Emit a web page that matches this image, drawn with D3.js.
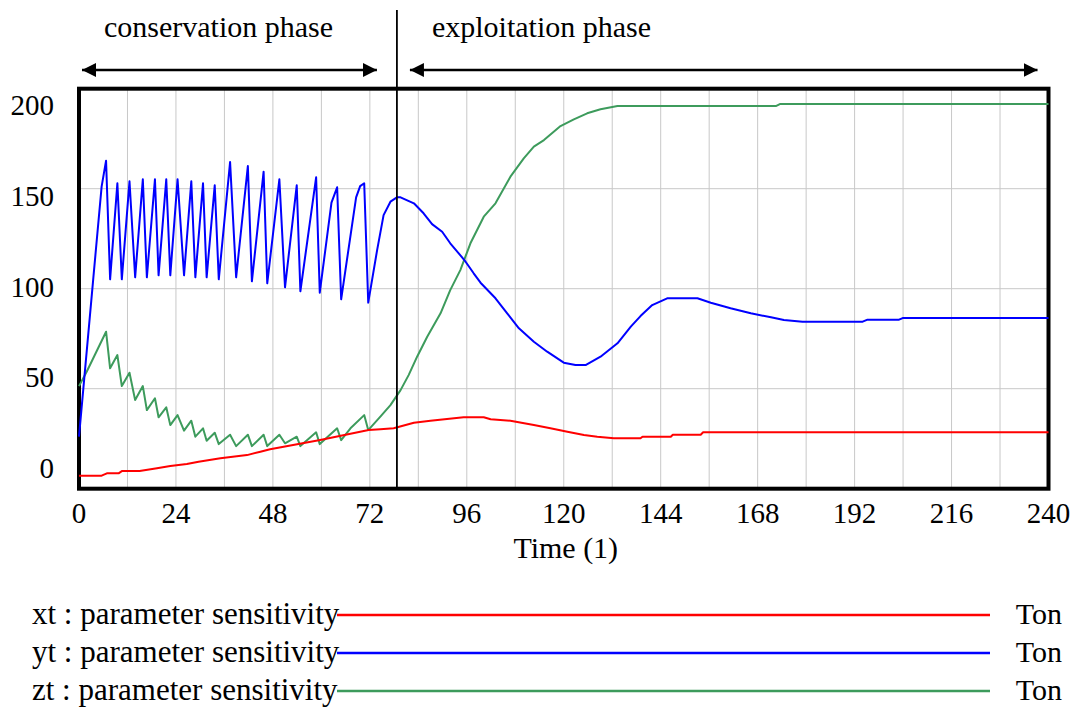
<!DOCTYPE html>
<html>
<head>
<meta charset="utf-8">
<script src="https://cdn.jsdelivr.net/npm/d3@7"></script>
<style>
  body { margin: 0; background: #fff; }
  svg text { font-family: "Liberation Serif", "Times New Roman", serif; fill: #000; }
</style>
</head>
<body>
<svg id="chart" width="1077" height="709"></svg>
<script>
// axis labels
var timeTicks = [0, 24, 48, 72, 96, 120, 144, 168, 192, 216, 240];
var gridTimes = [12, 24, 36, 48, 60, 72, 84, 96, 108, 120, 132, 144, 156, 168, 180, 192, 204, 216, 228];
var valueTicks = [0, 50, 100, 150, 200];
var gridValues = [50, 100, 150];

// phases
var phaseNames = ["conservation phase", "exploitation phase"];
var phaseStart = [0, 78.7];
var phaseEnd = [78.7, 240];

// xt (red)
var xtTime = [0, 5.6, 6.9, 9.8, 10.6, 15, 19.3, 22.6, 26.7, 29.6, 35, 41.6, 44.9, 47.3, 59.7, 71.7, 74.6, 77.9,
  82.9, 87, 95.2, 100.2, 101.9, 106.8, 112.6, 116.7, 120.9, 125, 128.3, 132.4, 139, 139.5, 146.5, 147, 153.9, 154.5, 240];
var xtValue = [6.5, 6.5, 7.7, 7.7, 8.8, 8.8, 10.2, 11.3, 12.3, 13.5, 15.2, 16.8, 18.5, 19.7, 24.3, 29.3, 29.7, 30.2,
  33, 34, 35.7, 35.7, 34.7, 34, 31.8, 30.2, 28.5, 26.8, 26, 25.2, 25.2, 26, 26, 27, 27, 28.2, 28.2];

// yt (blue)
var ytTime = [0, 3.5, 5.6, 6.7, 7.7, 9.5, 10.6, 12.5, 13.9, 15.8, 16.8, 18.8, 19.7, 21.6, 22.6, 24.4, 26.0, 27.8, 28.8,
  30.7, 31.6, 33.6, 34.6, 37.4, 38.9, 41.8, 42.8, 45.7, 46.6, 49.6, 51.0, 53.9, 54.8, 58.7, 59.6, 62.5, 63.9, 64.9,
  68.6, 69.6, 70.6, 71.6, 73.8, 75.4, 77.1, 78.7, 79.6, 82.9, 85.3, 87.4, 89.9, 91.9, 94.0, 95.7, 97.7, 99.4, 103.1,
  106.0, 108.9, 112.6, 115.9, 120.0, 122.9, 125.4, 129.1, 133.3, 136.6, 139.0, 141.9, 145.6, 153.1, 156.4, 161.3,
  166.3, 171.3, 174.5, 179.1, 194.0, 195.2, 203.0, 203.9, 240];
var ytValue = [26, 104.3, 151, 164, 104.7, 152.7, 104.7, 153.7, 105.7, 154.7, 105.7, 154.7, 106.7, 154.7, 106.7, 154.7,
  106.7, 153.7, 105.7, 152.7, 105.7, 151.7, 104.7, 163.3, 105.7, 161.3, 103.7, 158.5, 102.7, 154.7, 100.7, 151.7, 98.7,
  155.7, 98, 143, 150.7, 94.7, 145.7, 151.3, 152.7, 93, 119.3, 136.8, 143.5, 145.7, 145.7, 142.7, 137.7, 132.3, 128.5,
  122.7, 117.7, 113.5, 107.7, 103, 95.2, 87.7, 80.2, 73.5, 68.5, 63, 61.8, 61.8, 66, 72.7, 81, 86.3, 91.8, 95.2, 95.2,
  93, 90.2, 87.7, 85.7, 84.3, 83.5, 83.5, 84.5, 84.5, 85.3, 85.3];

// zt (green)
var ztTime = [0, 1.9, 6.7, 7.7, 9.5, 10.6, 12.5, 13.9, 15.8, 16.8, 18.8, 19.7, 21.6, 22.6, 24.4, 26.0, 27.8, 28.8, 30.7,
  31.6, 33.6, 34.6, 37.4, 38.9, 41.8, 42.8, 45.7, 46.6, 49.6, 51.0, 53.9, 54.8, 58.7, 59.6, 63.9, 64.9, 67.2, 70.6, 71.6,
  74.6, 77.1, 79.6, 81.6, 83.7, 86.2, 89.5, 91.9, 94.4, 96.9, 100.2, 103.1, 106.8, 110.1, 112.6, 115.1, 119.2, 122.5,
  125.8, 129.1, 133.3, 172.5, 173.5, 240];
var ztValue = [51.3, 58.5, 78.5, 60.2, 66.8, 51.3, 58, 44.3, 51.3, 39.3, 45.2, 35.7, 40.7, 31.8, 36.8, 29, 34, 26, 30.2,
  24, 28, 22.3, 27, 21.3, 27, 21.3, 27, 21.3, 27, 22.7, 26, 21.3, 28.2, 22.3, 30.2, 24.3, 30.2, 36.8, 29.3,
  36, 41.8, 49.3, 56.8, 66, 76, 87.7, 99.3, 109.3, 122.7, 136, 142.7, 156, 165.2, 171, 174.3, 181.3, 184.7,
  187.7, 189.7, 191.3, 191.3, 192.3, 192.3];

var seriesNames = ["xt : parameter sensitivity", "yt : parameter sensitivity", "zt : parameter sensitivity"];
var seriesUnits = ["Ton", "Ton", "Ton"];
var seriesColors = ["#ff0000", "#0000ff", "#3d9b5c"];

var svg = d3.select("#chart");
// note: "top" is taken by window.top, so plot edges get their own names
var plotLeft = 79, plotRight = 1048.5, plotTop = 88.7, plotBottom = 488.7;

var x = d3.scaleLinear().domain([0, 240]).range([plotLeft, plotRight]);
var y = d3.scaleLinear().domain([0, 200]).range([plotBottom, plotTop]);
// vensim spreads the value labels between the plot edges
var yLabel = d3.scaleLinear().domain([0, 200]).range([468, 105]);

// grid
svg.append("g").selectAll("line")
  .data(gridTimes).enter().append("line")
  .attr("x1", function (d) { return x(d); }).attr("x2", function (d) { return x(d); })
  .attr("y1", plotTop).attr("y2", plotBottom)
  .attr("stroke", "#c8c8c8").attr("stroke-width", 1);
svg.append("g").selectAll("line")
  .data(gridValues).enter().append("line")
  .attr("x1", plotLeft).attr("x2", plotRight)
  .attr("y1", function (d) { return y(d); }).attr("y2", function (d) { return y(d); })
  .attr("stroke", "#c8c8c8").attr("stroke-width", 1);

// frame
svg.append("rect")
  .attr("x", plotLeft).attr("y", plotTop)
  .attr("width", plotRight - plotLeft).attr("height", plotBottom - plotTop)
  .attr("fill", "none").attr("stroke", "#000").attr("stroke-width", 4);

// tick labels
svg.append("g").selectAll("text")
  .data(timeTicks).enter().append("text")
  .attr("x", function (d) { return x(d); })
  .attr("y", 523)
  .attr("text-anchor", "middle")
  .style("font-size", "29px")
  .text(function (d) { return d; });
svg.append("g").selectAll("text")
  .data(valueTicks).enter().append("text")
  .attr("x", 54)
  .attr("y", function (d) { return yLabel(d); })
  .attr("dy", "0.35em")
  .attr("text-anchor", "end")
  .style("font-size", "29px")
  .text(function (d) { return d; });

svg.append("text")
  .attr("x", (plotLeft + plotRight) / 2 + 2)
  .attr("y", 558)
  .attr("text-anchor", "middle")
  .style("font-size", "30px")
  .text("Time (1)");

// series
var line = d3.line()
  .x(function (d) { return x(d[0]); })
  .y(function (d) { return y(d[1]); });
var allSeries = [d3.zip(xtTime, xtValue), d3.zip(ytTime, ytValue), d3.zip(ztTime, ztValue)];
var drawOrder = [2, 0, 1];
drawOrder.forEach(function (i) {
  svg.append("path")
    .datum(allSeries[i])
    .attr("d", line)
    .attr("fill", "none")
    .attr("stroke", seriesColors[i])
    .attr("stroke-width", 2)
    .attr("stroke-linejoin", "round");
});

// phase divider + arrows
svg.append("line")
  .attr("x1", x(phaseEnd[0])).attr("x2", x(phaseEnd[0]))
  .attr("y1", 10).attr("y2", plotBottom)
  .attr("stroke", "#000").attr("stroke-width", 1.8);

var defs = svg.append("defs");
defs.append("marker")
  .attr("id", "head")
  .attr("markerUnits", "userSpaceOnUse")
  .attr("viewBox", "0 0 14 14")
  .attr("refX", 14).attr("refY", 7)
  .attr("markerWidth", 14).attr("markerHeight", 14)
  .attr("orient", "auto-start-reverse")
  .append("path")
  .attr("d", "M0,0 L14,7 L0,14 Z")
  .attr("fill", "#000");

var arrowPad = [[3, -20], [13, -11]];
phaseNames.forEach(function (name, i) {
  var x1 = x(phaseStart[i]) + arrowPad[i][0];
  var x2 = x(phaseEnd[i]) + arrowPad[i][1];
  svg.append("line")
    .attr("x1", x1).attr("x2", x2)
    .attr("y1", 70).attr("y2", 70)
    .attr("stroke", "#000").attr("stroke-width", 2.5)
    .attr("marker-start", "url(#head)")
    .attr("marker-end", "url(#head)");
  svg.append("text")
    .attr("x", x1 + 22)
    .attr("y", 37)
    .style("font-size", "30px")
    .text(name);
});

// legend
var legend = svg.append("g").selectAll("g")
  .data(seriesNames).enter().append("g")
  .attr("transform", function (d, i) { return "translate(0," + (615 + i * 38) + ")"; });
legend.append("text")
  .attr("x", 32).attr("y", 9)
  .style("font-size", "31px")
  .text(function (d) { return d; });
legend.append("line")
  .attr("x1", 337).attr("x2", 990)
  .attr("stroke", function (d, i) { return seriesColors[i]; })
  .attr("stroke-width", 2.5);
legend.append("text")
  .attr("x", 1062).attr("y", 9)
  .attr("text-anchor", "end")
  .style("font-size", "30px")
  .text(function (d, i) { return seriesUnits[i]; });
</script>
</body>
</html>
